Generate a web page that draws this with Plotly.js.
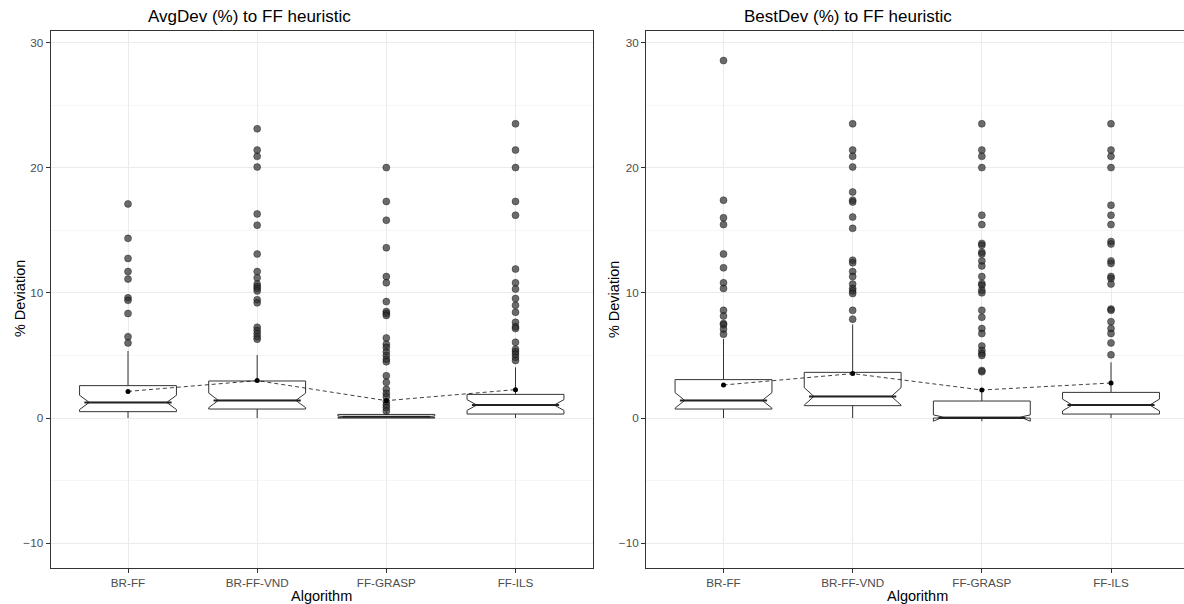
<!DOCTYPE html>
<html>
<head>
<meta charset="utf-8">
<script src="https://cdn.plot.ly/plotly-3.0.1.min.js"></script>
<style>html,body{margin:0;padding:0;background:#fff;overflow:hidden}#chart{width:1184px;height:604px}</style>
</head>
<body>
<div id="chart"></div>
<script>
// ---------- data ----------
var categories = ['BR-FF', 'BR-FF-VND', 'FF-GRASP', 'FF-ILS'];

// AvgDev panel
var avgQ1      = [0.51, 0.72, 0.00, 0.32];
var avgMedian  = [1.25, 1.41, 0.10, 1.04];
var avgQ3      = [2.59, 2.96, 0.29, 1.89];
var avgLower   = [0.00, 0.00, 0.00, 0.00];
var avgUpper   = [5.36, 5.04, 0.50, 4.05];
var avgNotch   = [0.57, 0.58, 0.06, 0.43];
var avgMean    = [2.13, 2.99, 1.39, 2.27];
var avgOutBRFF    = [17.1, 14.35, 12.75, 11.7, 11.1, 9.6, 9.4, 8.35, 6.5, 6.0];
var avgOutBRFFVND = [23.1, 21.4, 20.9, 20.05, 16.3, 15.4, 13.1, 11.7, 11.2, 10.7, 10.5, 10.35, 10.15, 9.45, 9.2, 7.25, 7.0, 6.75, 6.5, 6.3];
var avgOutGRASP   = [20.0, 17.3, 15.8, 13.6, 11.3, 10.8, 9.3, 8.5, 8.35, 8.2, 6.4, 5.9, 5.65, 5.3, 5.0, 4.7, 4.5, 3.38, 2.85, 2.3, 1.97, 1.7, 1.3, 1.04, 0.83, 0.56];
var avgOutILS     = [23.5, 21.4, 20.0, 17.3, 16.2, 11.9, 10.8, 10.3, 9.55, 9.0, 8.45, 7.65, 7.3, 7.15, 6.05, 5.5, 5.3, 5.1, 4.85, 4.6];

// BestDev panel
var bestQ1     = [0.72, 0.99, 0.00, 0.32];
var bestMedian = [1.41, 1.73, 0.00, 1.04];
var bestQ3     = [3.07, 3.65, 1.36, 2.05];
var bestLower  = [0.00, 0.00, 0.00, 0.00];
var bestUpper  = [6.32, 7.47, 2.20, 4.45];
var bestNotch  = [0.62, 0.70, 0.25, 0.47];
var bestMean   = [2.64, 3.55, 2.24, 2.80];
var bestOutBRFF    = [28.55, 17.4, 16.0, 15.45, 13.1, 12.0, 10.8, 10.35, 8.6, 8.15, 7.55, 7.45, 7.1, 6.7];
var bestOutBRFFVND = [23.5, 21.4, 20.9, 20.05, 18.05, 17.4, 17.25, 16.05, 15.15, 12.6, 12.4, 11.7, 11.3, 10.7, 10.35, 10.15, 9.95, 8.6, 7.9];
var bestOutGRASP   = [23.5, 21.4, 20.9, 20.0, 16.2, 15.45, 13.95, 13.8, 13.25, 13.1, 12.55, 12.15, 11.3, 10.75, 10.6, 10.2, 10.0, 8.6, 8.05, 7.15, 6.75, 5.75, 5.4, 5.15, 5.0, 3.8, 3.7];
var bestOutILS     = [23.5, 21.4, 20.9, 20.0, 17.0, 16.2, 15.45, 14.1, 13.9, 12.55, 12.35, 11.3, 11.15, 10.7, 8.7, 8.6, 7.7, 7.15, 6.75, 6.0, 5.05];

var panelTitles = ['AvgDev (%) to FF heuristic', 'BestDev (%) to FF heuristic'];
var xTitle = 'Algorithm';
var yTitle = '% Deviation';

// ---------- build ----------
var BOXW = 0.75, NOTCHW = 0.1;
var pos = categories.map(function(_, i){ return i + 1; });
var FONT = 'Liberation Sans, Arial, Helvetica, sans-serif';

function panel(xa, ya, q1, med, q3, lo, up, notch, mean, outs) {
  var traces = [];
  traces.push({
    type: 'box', x: pos, q1: q1, median: med, q3: q3,
    lowerfence: lo, upperfence: up, notched: true, notchspan: notch,
    notchwidth: NOTCHW, width: BOXW, whiskerwidth: 0, boxpoints: false,
    fillcolor: 'white', line: {color: '#333333', width: 1},
    xaxis: xa, yaxis: ya, hoverinfo: 'skip'
  });
  // thicker median segments
  var mx = [], my = [];
  pos.forEach(function(p, i){
    var hw = BOXW / 2 * (1 - NOTCHW);
    mx.push(p - hw, p + hw, null); my.push(med[i], med[i], null);
  });
  traces.push({type: 'scatter', mode: 'lines', x: mx, y: my, xaxis: xa, yaxis: ya,
    line: {color: '#222222', width: 2}, hoverinfo: 'skip'});
  // outliers
  var ox = [], oy = [];
  outs.forEach(function(arr, i){ arr.forEach(function(v){ ox.push(pos[i]); oy.push(v); }); });
  traces.push({type: 'scatter', mode: 'markers', x: ox, y: oy, xaxis: xa, yaxis: ya,
    marker: {color: 'rgba(45,45,45,0.7)', size: 7, line: {color: 'rgba(0,0,0,0.6)', width: 0.6}}, hoverinfo: 'skip'});
  // mean line
  traces.push({type: 'scatter', mode: 'lines+markers', x: pos, y: mean, xaxis: xa, yaxis: ya,
    line: {color: 'rgba(0,0,0,0.75)', width: 1, dash: '4px,3px'},
    marker: {color: 'black', size: 5}, hoverinfo: 'skip'});
  return traces;
}

var data = [].concat(
  panel('x', 'y', avgQ1, avgMedian, avgQ3, avgLower, avgUpper, avgNotch, avgMean,
        [avgOutBRFF, avgOutBRFFVND, avgOutGRASP, avgOutILS]),
  panel('x2', 'y2', bestQ1, bestMedian, bestQ3, bestLower, bestUpper, bestNotch, bestMean,
        [bestOutBRFF, bestOutBRFFVND, bestOutGRASP, bestOutILS])
);

var W = 1184, H = 604;
var yTop = 30.5, yBot = 567.7;
var L1 = 50.5, R1 = 593, L2 = 646;
var catPx = (R1 - L1) / 4.2;
var yDom = [(H - yBot) / H, (H - yTop) / H];

function xaxis(domain, range, mirror) {
  return {
    domain: domain, range: range, tickvals: pos, ticktext: categories,
    showgrid: true, gridcolor: '#ebebeb', gridwidth: 1, zeroline: false,
    showline: true, linecolor: '#333333', linewidth: 1, mirror: mirror,
    ticks: 'outside', ticklen: 4, tickcolor: '#333333', tickwidth: 1,
    tickfont: {family: FONT, size: 11.7, color: '#4d4d4d'}, fixedrange: true
  };
}
function yaxis(anchor, mirror) {
  return {
    domain: yDom, range: [-11.95, 30.95], anchor: anchor,
    tick0: 0, dtick: 10, showgrid: true, gridcolor: '#ebebeb', gridwidth: 1, zeroline: false,
    minor: {tick0: 0, dtick: 5, showgrid: true, gridcolor: '#f0f0f0', gridwidth: 0.6, ticks: ''},
    showline: true, linecolor: '#333333', linewidth: 1, mirror: mirror,
    ticks: 'outside', ticklen: 4, tickcolor: '#333333', tickwidth: 1,
    tickfont: {family: FONT, size: 11.7, color: '#4d4d4d'}, fixedrange: true
  };
}

var layout = {
  width: W, height: H, margin: {l: 0, r: 0, t: 0, b: 0},
  paper_bgcolor: 'white', plot_bgcolor: 'white', showlegend: false,
  xaxis: Object.assign(xaxis([L1 / W, R1 / W], [0.4, 4.6], true), {anchor: 'y'}),
  yaxis: yaxis('x', true),
  xaxis2: Object.assign(xaxis([L2 / W, 1], [0.4, 0.4 + (W - L2) / catPx], true), {anchor: 'y2'}),
  yaxis2: yaxis('x2', false),
  annotations: [
    {text: panelTitles[0], x: 146 / W, y: (H - 16) / H, xref: 'paper', yref: 'paper', xanchor: 'left', yanchor: 'middle', showarrow: false, font: {family: FONT, size: 17, color: 'black'}},
    {text: panelTitles[1], x: 742 / W, y: (H - 16) / H, xref: 'paper', yref: 'paper', xanchor: 'left', yanchor: 'middle', showarrow: false, font: {family: FONT, size: 17, color: 'black'}},
    {text: xTitle, x: (L1 + R1) / 2 / W, y: (H - 596) / H, xref: 'paper', yref: 'paper', xanchor: 'center', yanchor: 'middle', showarrow: false, font: {family: FONT, size: 14.5, color: 'black'}},
    {text: xTitle, x: (L2 + L2 + 4.2 * catPx) / 2 / W, y: (H - 596) / H, xref: 'paper', yref: 'paper', xanchor: 'center', yanchor: 'middle', showarrow: false, font: {family: FONT, size: 14.5, color: 'black'}},
    {text: yTitle, x: 20 / W, y: (H - (yTop + yBot) / 2) / H, xref: 'paper', yref: 'paper', xanchor: 'center', yanchor: 'middle', textangle: -90, showarrow: false, font: {family: FONT, size: 14.5, color: 'black'}},
    {text: yTitle, x: 614 / W, y: (H - (yTop + yBot) / 2) / H, xref: 'paper', yref: 'paper', xanchor: 'center', yanchor: 'middle', textangle: -90, showarrow: false, font: {family: FONT, size: 14.5, color: 'black'}}
  ]
};

Plotly.newPlot('chart', data, layout, {staticPlot: true, displayModeBar: false});
</script>
</body>
</html>
